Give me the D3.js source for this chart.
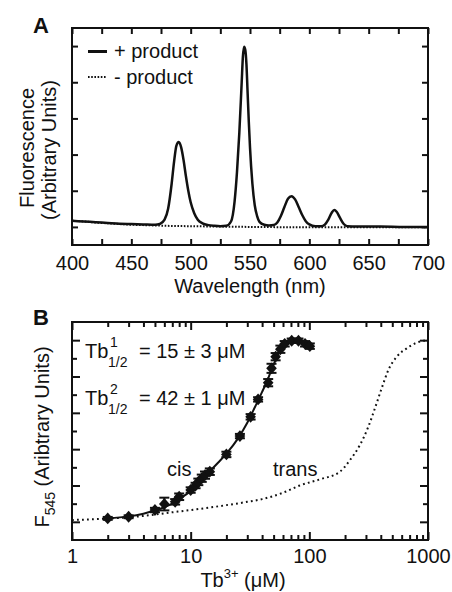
<!DOCTYPE html>
<html>
<head>
<meta charset="utf-8">
<script src="https://cdn.jsdelivr.net/npm/d3@7"></script>
<style>
body{margin:0;background:#fff;}
svg{display:block;font-family:"Liberation Sans",Arial,Helvetica,sans-serif;}
.tick text{font-size:20px;fill:#111;}
.tick line{stroke:#111;stroke-width:2;}
</style>
</head>
<body>
<div id="chart"></div>
<script>
// panel A: emission spectra
var wavelength = [400,410,420,430,440,450,460,470,474,478,481,484,486,488,490,492,494,496,498,500,503,506,510,515,520,525,530,534,537,539,541,543,544,545,546,547,548,549,550,552,554,556,558,562,566,570,573,576,579,582,585,588,591,594,597,600,605,610,613,616,619,621,623,626,629,632,640,650,660,680,700];
var plusProduct = [0.17,0.15,0.13,0.11,0.09,0.08,0.07,0.06,0.08,0.2,0.5,1.2,1.8,2.25,2.35,2.2,1.85,1.4,1.0,0.68,0.38,0.2,0.1,0.05,0.03,0.02,0.03,0.15,0.7,1.5,2.6,4.0,4.7,4.98,4.9,4.5,3.7,2.9,2.2,1.2,0.6,0.3,0.14,0.06,0.04,0.05,0.12,0.3,0.55,0.78,0.85,0.76,0.55,0.33,0.16,0.07,0.02,0.02,0.06,0.2,0.4,0.47,0.42,0.24,0.08,0.02,0.01,0.01,0.01,0.0,0.0];
var minusWl = [400,410,420,430,440,450,460,470,480,500,550,600,650,700];
var minusProduct = [0.17,0.15,0.12,0.1,0.08,0.06,0.05,0.04,0.03,0.02,0.0,-0.01,-0.01,-0.01];
var wlTicks = [400,425,450,475,500,525,550,575,600,625,650,675,700];
var fluorTicks = [0,1,2,3,4,5];

// panel B: Tb3+ titration
var tbConc = [2,3,5,6,7.4,8,10,11,11.6,12.4,13.2,14.5,20,26,32,37,45,48,52,57,62,71,81,92,101];
var cisF = [0.019,0.028,0.065,0.098,0.11,0.138,0.175,0.2,0.22,0.24,0.257,0.276,0.371,0.472,0.578,0.674,0.766,0.845,0.909,0.95,0.98,0.997,0.997,0.98,0.967];
var cisErr = [0.008,0.008,0.012,0.035,0.015,0.018,0.015,0.015,0.018,0.02,0.02,0.018,0.015,0.012,0.015,0.012,0.02,0.025,0.02,0.02,0.015,0.012,0.012,0.015,0.015];
var fitConc = [2,3,4,5,6,7,8,10,12,14,17,20,25,30,35,40,45,50,55,60,65,70,80,90,100];
var fitF = [0.02,0.03,0.045,0.062,0.08,0.1,0.125,0.17,0.222,0.268,0.325,0.375,0.458,0.545,0.635,0.715,0.79,0.865,0.925,0.96,0.985,0.995,0.995,0.982,0.968];
var transConc = [1,1.5,2,3,5,6,10,15,20,30,40,60,83,123,181,220,267,314,357,407,463,545,661,803,975];
var transF = [0.01,0.014,0.018,0.025,0.04,0.047,0.065,0.08,0.092,0.11,0.125,0.16,0.2,0.234,0.276,0.34,0.423,0.523,0.625,0.735,0.835,0.909,0.955,0.986,1.0];
var concMajor = [1,10,100,1000];
var concMinor = [2,3,4,5,6,7,8,9,20,30,40,50,60,70,80,90,200,300,400,500,600,700,800,900];
var f545Ticks = [0,0.1,0.2,0.3,0.4,0.5,0.6,0.7,0.8,0.9,1.0];

var W = 452, H = 592;
var svg = d3.select("#chart").append("svg").attr("width",W).attr("height",H);

var ink = "#111";

// ---------- panel A ----------
var xA = d3.scaleLinear().domain([400,700]).range([72,428]),
	yA = d3.scaleLinear().domain([-0.5,5.5]).range([245,28]);

var gA = svg.append("g");

gA.append("g").attr("transform","translate(0,245)")
	.call(d3.axisBottom(xA).tickValues(wlTicks).tickSize(-6).tickPadding(11)
		.tickFormat(function(d){return d%50===0 ? d : "";}));
gA.append("g").attr("transform","translate(0,28)")
	.call(d3.axisTop(xA).tickValues(wlTicks).tickSize(-6).tickFormat(""));
gA.append("g").attr("transform","translate(72,0)")
	.call(d3.axisLeft(yA).tickValues(fluorTicks).tickSize(-6).tickFormat(""));
gA.append("g").attr("transform","translate(428,0)")
	.call(d3.axisRight(yA).tickValues(fluorTicks).tickSize(-6).tickFormat(""));
gA.selectAll(".domain").remove();

var lineA = d3.line().curve(d3.curveMonotoneX);

gA.append("path")
	.attr("d", lineA(minusWl.map(function(w,i){return [xA(w), yA(minusProduct[i])];})))
	.attr("fill","none").attr("stroke",ink).attr("stroke-width",2).attr("stroke-dasharray","1.6,1.6");
gA.append("path")
	.attr("d", lineA(wavelength.map(function(w,i){return [xA(w), yA(plusProduct[i])];})))
	.attr("fill","none").attr("stroke",ink).attr("stroke-width",2.5).attr("stroke-linejoin","round");

gA.append("rect").attr("x",72).attr("y",28).attr("width",356).attr("height",217)
	.attr("fill","none").attr("stroke",ink).attr("stroke-width",2);

// legend
gA.append("line").attr("x1",88).attr("x2",107).attr("y1",51.5).attr("y2",51.5)
	.attr("stroke",ink).attr("stroke-width",3);
gA.append("line").attr("x1",88).attr("x2",107).attr("y1",77).attr("y2",77)
	.attr("stroke",ink).attr("stroke-width",2).attr("stroke-dasharray","1.6,1.6");
gA.append("text").attr("x",114).attr("y",58).attr("font-size",20).attr("fill",ink).text("+ product");
gA.append("text").attr("x",114).attr("y",83.5).attr("font-size",20).attr("fill",ink).text("- product");

gA.append("text").attr("x",33).attr("y",33).attr("font-size",22).attr("font-weight","bold").attr("fill",ink).text("A");
gA.append("text").attr("x",250).attr("y",293).attr("text-anchor","middle").attr("font-size",20).attr("fill",ink).text("Wavelength (nm)");
gA.append("text").attr("transform","translate(34,148) rotate(-90)").attr("text-anchor","middle")
	.attr("font-size",20).attr("fill",ink).text("Fluorescence");
gA.append("text").attr("transform","translate(56,150) rotate(-90)").attr("text-anchor","middle")
	.attr("font-size",20).attr("fill",ink).text("(Arbitrary Units)");

// ---------- panel B ----------
var xB = d3.scaleLog().domain([1,1000]).range([72,428]),
	yB = d3.scaleLinear().domain([-0.1,1.1]).range([540,322]);

var gB = svg.append("g");

gB.append("g").attr("transform","translate(0,540)")
	.call(d3.axisBottom(xB).tickValues(concMajor).tickSize(-8).tickPadding(9).tickFormat(d3.format("d")));
gB.append("g").attr("transform","translate(0,540)")
	.call(d3.axisBottom(xB).tickValues(concMinor).tickSize(-5).tickFormat(""));
gB.append("g").attr("transform","translate(0,322)")
	.call(d3.axisTop(xB).tickValues(concMajor).tickSize(-8).tickFormat(""));
gB.append("g").attr("transform","translate(0,322)")
	.call(d3.axisTop(xB).tickValues(concMinor).tickSize(-5).tickFormat(""));

[[72,d3.axisLeft],[428,d3.axisRight]].forEach(function(a){
	gB.append("g").attr("transform","translate("+a[0]+",0)")
		.call(a[1](yB).tickValues(f545Ticks.filter(function(d,i){return i%2===0;})).tickSize(-8).tickFormat(""));
	gB.append("g").attr("transform","translate("+a[0]+",0)")
		.call(a[1](yB).tickValues(f545Ticks.filter(function(d,i){return i%2===1;})).tickSize(-5).tickFormat(""));
});
gB.selectAll(".domain").remove();

var lineB = d3.line().curve(d3.curveMonotoneX);

gB.append("path")
	.attr("d", lineB(transConc.map(function(c,i){return [xB(c), yB(transF[i])];})))
	.attr("fill","none").attr("stroke",ink).attr("stroke-width",2).attr("stroke-dasharray","1.8,3.2");
gB.append("path")
	.attr("d", lineB(fitConc.map(function(c,i){return [xB(c), yB(fitF[i])];})))
	.attr("fill","none").attr("stroke",ink).attr("stroke-width",2);

var pts = tbConc.map(function(c,i){return {c:c, f:cisF[i], e:cisErr[i]};});
var eb = gB.selectAll(".eb").data(pts).enter().append("g").attr("class","eb")
	.attr("transform",function(d){return "translate("+xB(d.c)+",0)";});
eb.append("line").attr("y1",function(d){return yB(d.f-d.e);}).attr("y2",function(d){return yB(d.f+d.e);})
	.attr("stroke",ink).attr("stroke-width",2);
eb.append("line").attr("x1",-5).attr("x2",5).attr("y1",function(d){return yB(d.f-d.e);}).attr("y2",function(d){return yB(d.f-d.e);})
	.attr("stroke",ink).attr("stroke-width",2);
eb.append("line").attr("x1",-5).attr("x2",5).attr("y1",function(d){return yB(d.f+d.e);}).attr("y2",function(d){return yB(d.f+d.e);})
	.attr("stroke",ink).attr("stroke-width",2);
eb.append("path").attr("d", d3.symbol().type(d3.symbolDiamond).size(50))
	.attr("transform",function(d){return "translate(0,"+yB(d.f)+") scale(1.4,0.9)";})
	.attr("fill",ink);

gB.append("rect").attr("x",72).attr("y",322).attr("width",356).attr("height",218)
	.attr("fill","none").attr("stroke",ink).attr("stroke-width",2);

// annotations
function tbLabel(y, sup, rest){
	gB.append("text").attr("x",85).attr("y",y).attr("font-size",20).attr("fill",ink).text("Tb");
	gB.append("text").attr("x",110).attr("y",y-11).attr("font-size",14).attr("fill",ink).text(sup);
	gB.append("text").attr("x",108).attr("y",y+9).attr("font-size",14).attr("fill",ink).text("1/2");
	gB.append("text").attr("x",139).attr("y",y).attr("font-size",20).attr("fill",ink).text(rest);
}
tbLabel(358, "1", "= 15 \u00b1 3 \u03bcM");
tbLabel(405, "2", "= 42 \u00b1 1 \u03bcM");

gB.append("text").attr("x",167).attr("y",476).attr("font-size",20).attr("fill",ink).text("cis");
gB.append("text").attr("x",273).attr("y",476).attr("font-size",20).attr("fill",ink).text("trans");

gB.append("text").attr("x",33).attr("y",325).attr("font-size",22).attr("font-weight","bold").attr("fill",ink).text("B");

var xt = gB.append("text").attr("x",243).attr("y",587).attr("text-anchor","middle").attr("font-size",20).attr("fill",ink);
xt.append("tspan").text("Tb");
xt.append("tspan").attr("font-size",13).attr("dy",-9).text("3+");
xt.append("tspan").attr("dy",9).text(" (\u03bcM)");

var yt = gB.append("text").attr("transform","translate(49,437) rotate(-90)").attr("text-anchor","middle")
	.attr("font-size",20).attr("fill",ink);
yt.append("tspan").text("F");
yt.append("tspan").attr("font-size",14).attr("dy",6).text("545");
yt.append("tspan").attr("dy",-6).text(" (Aribtrary Units)");
</script>
</body>
</html>
